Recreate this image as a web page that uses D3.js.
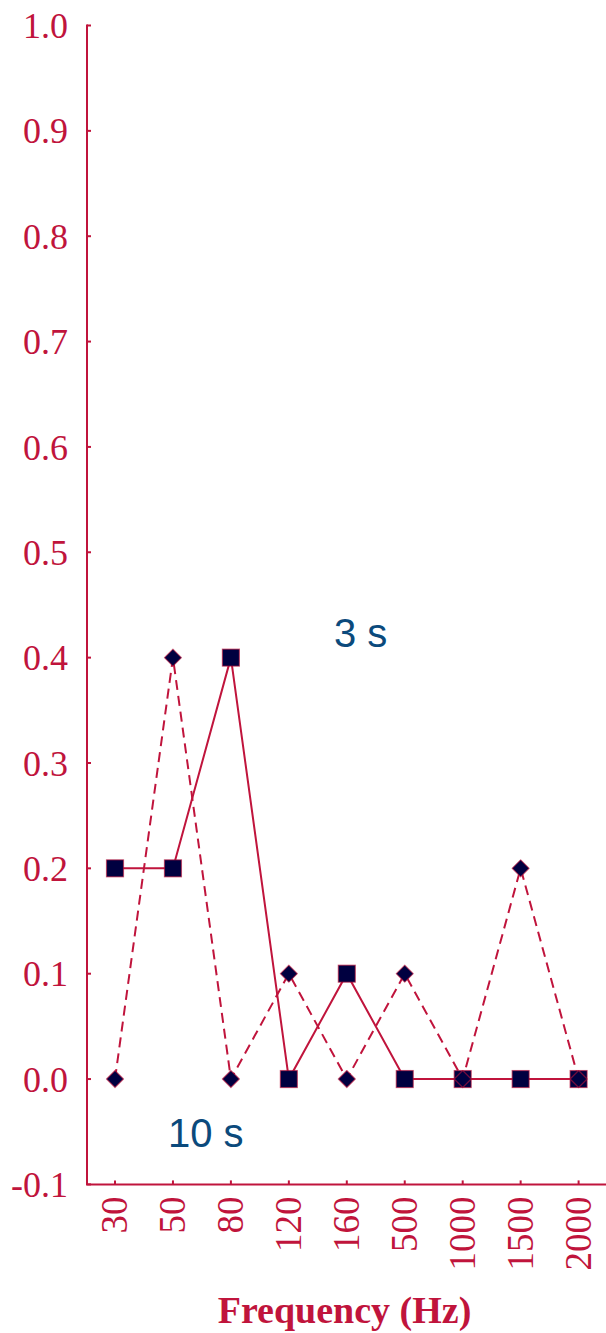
<!DOCTYPE html>
<html><head><meta charset="utf-8">
<script src="https://cdn.jsdelivr.net/npm/d3@7"></script>
<style>body{margin:0;background:#fff}svg{display:block}</style>
</head><body>
<script>
const categories = ["30","50","80","120","160","500","1000","1500","2000"];
const series3s = [0.2,0.2,0.4,0.0,0.1,0.0,0.0,0.0,0.0];
const series10s = [0.0,0.4,0.0,0.1,0.0,0.1,0.0,0.2,0.0];
const yTicks = [-0.1,0,0.1,0.2,0.3,0.4,0.5,0.6,0.7,0.8,0.9,1.0];
const xTitle = "Frequency (Hz)";
const labels = [{text:"3 s", cat:"160", val:0.4}, {text:"10 s", cat:"50", val:-0.05}];

const W=606,H=1333;
const crimson="#c0143c", navy="#000040", blue="#0b4a7c";
const svg=d3.select("body").append("svg").attr("width",W).attr("height",H);

const axX=87, axBottom=1184.4;
const x=d3.scalePoint().domain(categories).range([115,578.6]);
const y=d3.scaleLinear().domain([-0.1,1.0]).range([axBottom,25.5]);

// y axis
const ya=svg.append("g");
ya.append("line").attr("x1",axX).attr("x2",axX).attr("y1",y(1.0)-1).attr("y2",axBottom)
  .attr("stroke",crimson).attr("stroke-width",2);
ya.selectAll("line.t").data(yTicks).join("line").attr("class","t")
  .attr("x1",axX).attr("x2",axX+4).attr("y1",d=>y(d)).attr("y2",d=>y(d))
  .attr("stroke",crimson).attr("stroke-width",2);
ya.selectAll("text").data(yTicks).join("text")
  .attr("x",68).attr("y",d=>y(d)).attr("dy","0.35em").attr("text-anchor","end")
  .attr("font-family","'Liberation Serif','Times New Roman',serif").attr("font-size",36)
  .attr("fill",crimson).text(d=>d3.format(".1f")(d).replace("−","-"));

// x axis
const xa=svg.append("g");
xa.append("line").attr("x1",axX-1).attr("x2",W).attr("y1",axBottom).attr("y2",axBottom)
  .attr("stroke",crimson).attr("stroke-width",2);
xa.selectAll("line.t").data(categories).join("line").attr("class","t")
  .attr("x1",d=>x(d)).attr("x2",d=>x(d)).attr("y1",axBottom).attr("y2",axBottom-4)
  .attr("stroke",crimson).attr("stroke-width",2);
xa.selectAll("text").data(categories).join("text")
  .attr("transform",d=>`translate(${x(d)},${axBottom+12}) rotate(-90)`)
  .attr("text-anchor","end").attr("dy","0.33em")
  .attr("font-family","'Liberation Serif','Times New Roman',serif").attr("font-size",37)
  .attr("fill",crimson).text(d=>d);
svg.append("text").attr("x",344.5).attr("y",1323).attr("text-anchor","middle")
  .attr("font-family","'Liberation Serif','Times New Roman',serif").attr("font-weight","bold")
  .attr("font-size",38).attr("fill",crimson).text(xTitle);

// lines
const line=(vals)=>d3.line().x((d,i)=>x(categories[i])).y(d=>y(d))(vals);
svg.append("path").attr("d",line(series10s)).attr("fill","none").attr("stroke",crimson)
  .attr("stroke-width",2).attr("stroke-dasharray","10,6");
svg.append("path").attr("d",line(series3s)).attr("fill","none").attr("stroke",crimson)
  .attr("stroke-width",2);

// markers
const s=17;
svg.selectAll("rect.m").data(series3s).join("rect").attr("class","m")
  .attr("x",(d,i)=>x(categories[i])-s/2).attr("y",d=>y(d)-s/2).attr("width",s).attr("height",s)
  .attr("fill",navy).attr("stroke",crimson).attr("stroke-opacity",0.6).attr("stroke-width",1.2);
const r=8.5;
svg.selectAll("path.dm").data(series10s).join("path").attr("class","dm")
  .attr("transform",(d,i)=>`translate(${x(categories[i])},${y(d)})`)
  .attr("d",`M0,${-r}L${r},0L0,${r}L${-r},0Z`)
  .attr("fill",navy).attr("stroke",crimson).attr("stroke-opacity",0.6).attr("stroke-width",1.2)
  .attr("stroke-linejoin","round");

// labels
svg.append("text").attr("x",334).attr("y",647).attr("font-family","'Liberation Sans',Arial,sans-serif")
  .attr("font-size",40).attr("fill",blue).text(labels[0].text);
svg.append("text").attr("x",168).attr("y",1147).attr("font-family","'Liberation Sans',Arial,sans-serif")
  .attr("font-size",40).attr("fill",blue).text(labels[1].text);
</script>
</body></html>
